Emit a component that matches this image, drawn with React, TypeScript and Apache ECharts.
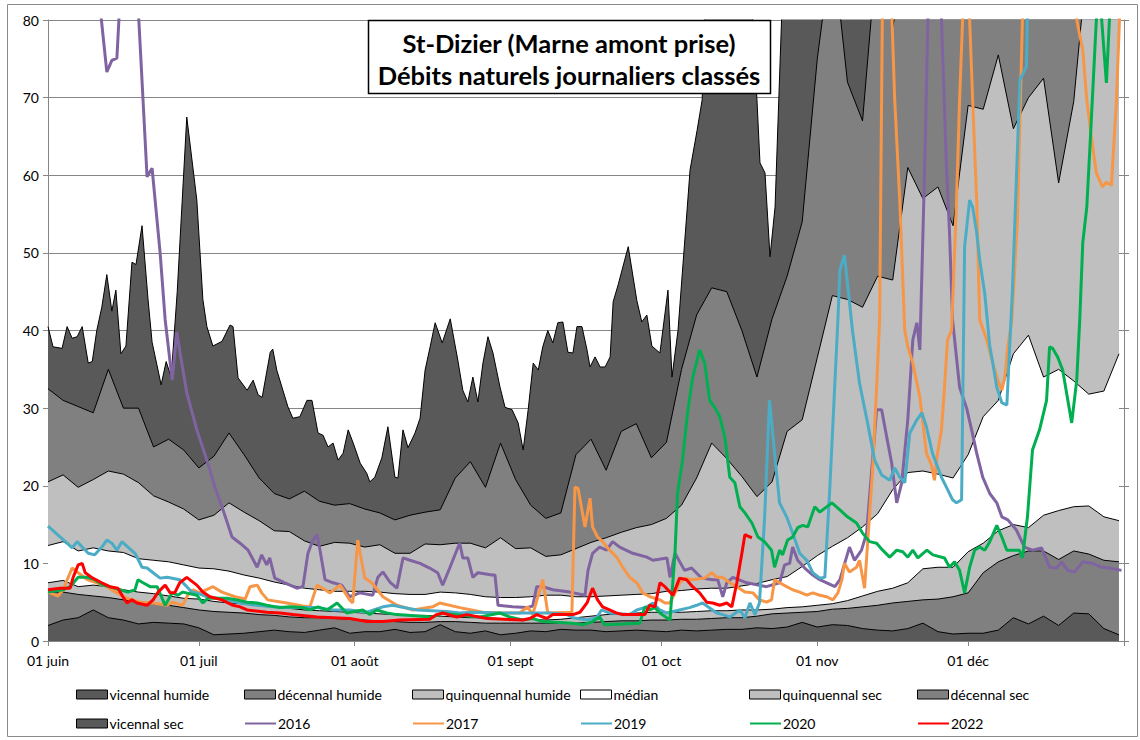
import React, { useEffect, useRef } from "react";
import * as echarts from "echarts";

// x = day index counted from 1 June (0) ; 1 January = 214
const monthTickDays = [0, 30, 61, 92, 122, 153, 183, 214];
const monthLabelDays = [0, 30, 61, 92, 122, 153, 183];
const monthLabels = ["01 juin", "01 juil", "01 août", "01 sept", "01 oct", "01 nov", "01 déc"];

// sampling days of the statistical bands
const bandDays = [0, 3, 6, 9, 12, 15, 18, 21, 24, 27, 30, 33, 36, 39, 42, 45, 48, 51, 54, 57, 60, 63, 66, 69, 72, 75, 78, 81, 84, 87, 90, 93, 96, 99, 102, 105, 108, 111, 114, 117, 120, 123, 126, 129, 132, 135, 138, 141, 144, 147, 150, 153, 156, 159, 162, 165, 168, 171, 174, 177, 180, 183, 186, 189, 192, 195, 198, 201, 204, 207, 210, 213];

const vicennalHumide: [number, number][] = [
  [0, 40.5], [1, 37.9], [2.8, 37.7], [3.8, 40.5], [4.8, 39], [5.8, 39.2], [6.8, 40.5], [8, 35.8], [8.8, 36], [9.7, 40],
  [10.7, 43], [11.7, 47.2], [12.7, 42.5], [13.5, 45.2], [14.5, 37], [15.5, 38], [16.7, 48.8], [17.5, 48.5], [18.7, 53.5], [19.9, 44],
  [20.7, 38.5], [22.5, 33], [23.5, 36], [24.5, 34], [25.7, 45], [27.6, 67.5], [29.6, 56.8], [30.8, 44], [31.6, 40.5], [32.8, 38],
  [34.6, 38.6], [36.2, 40.7], [36.8, 40.5], [37.8, 33.9], [39.6, 32.3], [40.8, 33.6], [41.8, 31.7], [42.6, 31.4], [44.2, 37.2], [44.7, 37.6],
  [45.5, 34.9], [47.7, 30.2], [48.7, 28.7], [50.1, 28.9], [51.5, 31], [52.5, 31], [53.7, 26.8], [54.7, 26.5], [55.7, 25], [56.7, 25.5],
  [57.7, 23.3], [58.7, 24.2], [59.7, 27.2], [60.7, 25.5], [62.1, 22.9], [63.4, 21.6], [64, 20.5], [65, 21.1], [66.4, 23.6], [67.6, 27.6],
  [69, 21.1], [69.6, 21], [70.6, 27.2], [71.6, 24.9], [73, 26.8], [74, 28.7], [75, 34.9], [76, 37.9], [77, 41], [78.4, 38.4],
  [80, 41.5], [81.5, 36.2], [82.5, 32.3], [83.5, 30.8], [84.5, 34], [85.5, 30.8], [86.5, 35.8], [87.5, 39.2], [88.5, 37.1], [89.9, 32.7],
  [90.9, 30.1], [92.3, 29.8], [93.5, 28.1], [94.5, 24.6], [95.5, 29.8], [96.5, 35.8], [97.5, 34.9], [98.4, 37.9], [99.4, 40], [100.4, 38.4],
  [101.4, 41], [102.4, 41.1], [103.4, 37.2], [104.4, 37.1], [105.2, 40.5], [106.2, 40.5], [107.2, 37.5], [107.8, 35.3], [108.8, 36.6], [109.8, 35.3],
  [110.8, 35.3], [111.8, 36.6], [112.4, 43.7], [113.4, 45.9], [115.4, 50.8], [117.1, 43.9], [118.1, 41.1], [119.1, 42], [120.1, 38], [121.7, 37.1],
  [123.3, 45.2], [124.1, 34], [125.3, 40], [127.7, 60.7], [129.1, 65.8], [130.1, 69.7], [130.7, 82], [133.7, 95], [138.6, 95], [140, 82],
  [141, 69.7], [141.6, 61.6], [142.6, 60.3], [143.6, 49.5], [144.6, 55.9], [146, 82], [149.6, 100], [169.5, 100], [189.3, 100], [213, 100],
];

const decennalHumide = [
  32.5, 31, 30.2, 29.4, 35, 30, 30, 25, 26, 24.6,
  22.3, 23.8, 26.8, 24, 21, 19, 18.3, 19.3, 18, 17.5,
  17.7, 17, 16.5, 15.6, 16.2, 16.6, 16.9, 21, 23.1, 19.8,
  25.5, 20.8, 17.5, 15.8, 16.5, 24, 26, 22, 27, 28,
  23.6, 25.6, 35, 42, 45.5, 45, 40, 34, 41.5, 47,
  54, 75, 90, 72, 67, 90, 79, 90, 95, 95,
  95, 95, 95, 95, 95, 95, 95, 95, 95, 95,
  95, 95,
];

const quinquennalHumide = [
  20.5, 21.4, 19.8, 20.8, 21.9, 21.5, 20.4, 18.7, 17.9, 17,
  15.6, 16.2, 17.8, 16.6, 15.5, 14.2, 14.1, 12.9, 12.2, 12.7,
  12.6, 12.1, 12.4, 11.3, 11.3, 12.5, 12.4, 12.6, 12.6, 12,
  13.3, 11.9, 12, 10.9, 11.1, 11.9, 12.7, 13.3, 14, 14.6,
  15, 15.8, 17.5, 21, 25.5, 23.5, 21.2, 18.6, 20.5, 27,
  28.5, 36.5, 44.5, 44, 43, 47, 46.5, 61, 57, 58.5,
  53.5, 69, 68.5, 75.5, 66, 70, 72.5, 59, 69.5, 90,
  90, 90,
];

const median = [
  12.3, 12.8, 11.6, 12, 11.6, 11.4, 10.6, 10.4, 10.2, 9.8,
  9.4, 9.3, 9, 8.5, 8.1, 7.6, 7.2, 6.8, 6.6, 6.4,
  6.4, 6.4, 6.3, 6.1, 6, 6, 6.3, 6.2, 6, 5.7,
  5.6, 5.6, 5.7, 5.9, 5.9, 5.7, 5.7, 5.8, 5.9, 6,
  6.1, 6.4, 6.5, 6.7, 6.8, 6.8, 7.1, 7.4, 7.9, 8.3,
  9.6, 11, 12.2, 13.3, 14.7, 16.4, 19.5, 21.7, 21.9, 21.5,
  21, 24, 28.9, 31, 37, 39.4, 34, 35, 33.5, 31.8,
  32.2, 37,
];

const quinquennalSec = [
  7.5, 7.8, 7, 7.2, 7, 6.6, 6.3, 6.1, 5.8, 5.5,
  5.4, 5.1, 4.9, 4.8, 4.6, 4.4, 4.2, 4, 3.9, 3.8,
  3.7, 3.6, 3.5, 3.4, 3.3, 3.3, 3.2, 3.1, 3, 3,
  2.9, 2.8, 2.8, 2.7, 2.8, 3, 3.2, 3.4, 3.5, 3.6,
  3.7, 3.7, 3.7, 3.8, 3.9, 3.9, 4, 4, 4.1, 4.3,
  4.4, 4.6, 4.8, 5.2, 5.8, 6.4, 6.8, 7.5, 9.3, 9.5,
  9.5, 11.5, 12.6, 14.2, 15, 14.6, 16.2, 16.8, 17.3, 17.4,
  16, 15.5,
];

const decennalSec = [
  6.3, 6.3, 6, 5.8, 5.6, 5.3, 5, 4.8, 4.6, 4.3,
  4, 3.8, 3.7, 3.6, 3.4, 3.3, 3.1, 3, 3, 2.9,
  2.8, 2.7, 2.6, 2.5, 2.4, 2.4, 2.5, 2.5, 2.4, 2.3,
  2.3, 2.3, 2.3, 2.3, 2.3, 2.3, 2.4, 2.5, 2.6, 2.6,
  2.7, 2.7, 2.8, 2.8, 2.9, 3, 3, 3.2, 3.5, 3.6,
  3.7, 3.8, 4.1, 4.2, 4.4, 4.6, 4.9, 5.1, 5.3, 5.4,
  5.7, 6.2, 8.8, 10.2, 11, 11.6, 11.6, 10.5, 11.6, 11.2,
  10.4, 10.2,
];

const vicennalSec = [
  2, 2.7, 3, 4, 3, 2.7, 2.2, 2.4, 2.3, 2.2,
  1.7, 0.8, 0.9, 1, 1.2, 1.4, 1.2, 1.1, 1.4, 1.7,
  1, 1.2, 1.2, 1.5, 1.1, 1.2, 2.1, 1.2, 1, 1.3,
  0.8, 1, 1.3, 1.2, 1.5, 1.4, 1.4, 1.2, 1.3, 1.4,
  1.3, 1.2, 1.4, 1.3, 1.4, 1.5, 1.5, 1.7, 1.6, 1.8,
  2.4, 1.8, 2.1, 2, 1.6, 1.4, 1.3, 1.6, 2.3, 1.2,
  0.9, 1, 1, 1.4, 3, 2.2, 3.2, 2, 3.6, 3.5,
  1.6, 0.8,
];

const y2016: [number, number][] = [
  [0, 130], [6, 110], [10.3, 82], [11.7, 73.3], [12.7, 74.8], [13.7, 75.1], [14.1, 80], [14.7, 100], [17.3, 100], [17.9, 82],
  [18.9, 69.7], [19.7, 59.8], [20.7, 60.9], [22.3, 50], [23.3, 41.4], [24.7, 33.6], [25.6, 39.8], [26.6, 35.8], [27.6, 32], [29.6, 27.2],
  [31.6, 23.3], [33.2, 19.8], [34.6, 17.3], [36.6, 13.4], [38.2, 12.6], [39.8, 11.7], [41.6, 9.5], [42.5, 11.1], [43.5, 9.8], [44.1, 10.7],
  [45.1, 8.1], [47.1, 7.5], [49.5, 6.8], [50.7, 7], [51.7, 11.3], [52.7, 13], [53.5, 13.7], [54.1, 11.7], [55.1, 7.9], [56.7, 7.5],
  [58.4, 7.2], [60, 5.7], [62, 6.2], [64.6, 5.9], [65.6, 8.2], [66.6, 8.9], [68, 7.6], [69.4, 6.8], [70.6, 10.7], [72, 10.4],
  [74, 10], [75.9, 9.4], [77.5, 8.8], [78.5, 7.2], [79.9, 9.4], [81.3, 11.7], [81.9, 12.6], [82.5, 10.7], [83.5, 10.7], [84.5, 8.2],
  [85.5, 8.8], [88.3, 8.5], [88.9, 8.5], [89.5, 4.6], [92.4, 4.4], [95.2, 4.3], [96.4, 4.5], [97.2, 7], [98.4, 7], [100.4, 6.6],
  [103.8, 6.3], [106.8, 5.9], [107.4, 9.1], [108.3, 11.3], [109.7, 12.1], [111.1, 11.7], [112.3, 12.8], [113.7, 12.1], [116.3, 11.3], [119.1, 10.8],
  [120.3, 10.4], [123.1, 10.7], [123.7, 8.2], [124.7, 11.3], [126.6, 9.1], [128, 9.4], [130, 8.1], [132.2, 7.9], [133.2, 7.9], [134.2, 5.7],
  [135, 7.5], [136.2, 8.2], [139, 7.5], [142.9, 7], [145.5, 7.5], [146.5, 9.8], [147.5, 10], [148.1, 12.1], [149.1, 10.4], [150.5, 9.4],
  [152.1, 8.5], [153.5, 7.9], [156.5, 7], [157.5, 7.9], [159.4, 12.1], [160.4, 10.4], [161.8, 11.7], [162.8, 13.9], [164.8, 29.8], [165.8, 29.8],
  [166.8, 26.3], [167.8, 22.9], [168.8, 17.8], [169.8, 20.4], [171, 28.5], [172, 38.8], [172.8, 41], [173.4, 37.5], [174.4, 62], [175, 80],
  [176.3, 100], [177.7, 80], [178.7, 61], [179.3, 52.6], [179.9, 41.4], [181.3, 32.7], [182.7, 30], [183.7, 27.2], [184.7, 24.2], [185.9, 21.1],
  [187.3, 19], [188.7, 17.8], [189.7, 16], [190.9, 15.6], [192.6, 14.3], [194.2, 12.1], [195.8, 11.7], [197.6, 12], [199.2, 9.5], [200.6, 9.4],
  [201.6, 10.2], [202.8, 9.1], [204.2, 8.9], [205.8, 10.2], [207.8, 10], [209.5, 9.5], [211.1, 9.4], [213.5, 9.1],
];

const y2017: [number, number][] = [
  [0, 6.3], [2, 5.8], [3, 6.6], [4.8, 9.4], [6, 8.8], [7.8, 7.9], [9.7, 7.5], [11.7, 7], [13.7, 6.2], [15.7, 5.5],
  [18.3, 5], [20.9, 4.9], [23.7, 4.6], [24.7, 5], [26.8, 4.6], [27.8, 5.9], [28.8, 6.6], [30.2, 6.2], [32.8, 7], [34.6, 6.3],
  [37.2, 5.7], [39.2, 5.4], [40.2, 7], [41.6, 7.2], [42.5, 6.2], [43.7, 5.3], [47.5, 4.9], [50.7, 4.5], [52.1, 4.4], [53.5, 7.2],
  [55.1, 6.6], [56.1, 6.2], [58.1, 7.2], [60, 5.3], [60.6, 4.9], [61.6, 13], [63, 8.1], [64.4, 7.5], [66.6, 5.7], [69.4, 4.6],
  [72.6, 4], [76.5, 4.4], [77.9, 4.9], [81.9, 4.3], [86.5, 3.7], [89.9, 3.6], [93.8, 3.6], [95.4, 4.4], [96.4, 3.4], [98.4, 7.9],
  [99.4, 3.6], [104.2, 3.7], [104.8, 19.8], [105.4, 19.7], [106.8, 14.7], [107.8, 18.4], [108.3, 14.7], [109.3, 13.4], [110.3, 12.8], [111.7, 11.7],
  [113.1, 10.8], [114.3, 9.5], [115.7, 8.2], [117.1, 7.5], [118.3, 6.2], [119.7, 5.7], [121.7, 5.3], [122.7, 4.9], [123.7, 4.9], [124.7, 6.2],
  [125.6, 7.5], [126.6, 8.1], [128, 7.9], [130.6, 8.1], [132, 8.8], [133, 8.2], [134.2, 8.2], [135.6, 7.5], [137, 7], [138.6, 6.3],
  [140.2, 6.2], [141.5, 5.3], [142.9, 5], [143.9, 5.3], [144.5, 7.9], [145.5, 7.5], [146.9, 7], [148.1, 6.6], [149.5, 6.3], [150.9, 5.9],
  [152.1, 6.2], [153.5, 5.9], [154.9, 5.7], [156.1, 5.3], [157.1, 6.2], [157.9, 7.9], [158.4, 10], [159.4, 8.9], [160.8, 9.5], [161.4, 10.4],
  [162.4, 6.8], [164, 22], [164.8, 32.7], [165.4, 41.4], [166.2, 100], [167.6, 85], [168.4, 69.7], [169.4, 56.8], [170.4, 40], [171, 37.9],
  [172, 35.8], [173.4, 31.4], [174.7, 24.2], [175.7, 22.7], [176.3, 20.7], [176.9, 24.2], [177.7, 27.2], [178.3, 32.7], [178.9, 38.8], [179.7, 40],
  [180.7, 56.8], [181.3, 69.7], [181.9, 80], [182.5, 95], [183.3, 80], [183.9, 69.7], [184.7, 56.8], [185.3, 41.4], [186.7, 38.8], [187.9, 35.8],
  [188.9, 33.6], [189.7, 32.3], [190.3, 34], [190.9, 37.9], [191.7, 41.4], [192.8, 54.2], [193.8, 80], [195.2, 100], [199.2, 110], [203.2, 95],
  [204.6, 80], [205.8, 76.1], [206.6, 69.7], [207.6, 64.5], [208.5, 60.3], [209.7, 58.5], [210.5, 59.1], [211.5, 58.7], [212.5, 69.7], [213.1, 80],
  [213.9, 95],
];

const y2019: [number, number][] = [
  [0, 14.8], [2.4, 13.4], [3.8, 12.6], [4.8, 12], [5.8, 12.8], [6.8, 12.1], [8, 11.3], [9.3, 11.1], [10.7, 12.1], [11.7, 13],
  [12.7, 12.6], [13.7, 11.7], [14.7, 12.8], [15.9, 12.1], [17.3, 11.3], [18.7, 9.5], [19.7, 9.4], [20.9, 8.8], [22.3, 8.1], [23.7, 8.2],
  [26.2, 7.9], [27.6, 7], [28.6, 6.3], [29.6, 6.2], [31.6, 5.7], [33.6, 5.5], [35.6, 5.3], [38.2, 4.9], [41.6, 4.6], [44.7, 4.4],
  [47.5, 4.3], [53.5, 4.3], [56.7, 4], [60, 4], [63.4, 3.7], [66.6, 4.4], [68.6, 4.6], [70, 4.4], [73.4, 4], [79.3, 3.8],
  [81.9, 3.6], [84.5, 3.7], [89.9, 3.6], [99.8, 3.6], [103.2, 3.4], [104.4, 3], [107.2, 2.7], [109.1, 3], [110.1, 4], [111.7, 3.6],
  [115.7, 3.4], [117.1, 4], [119.1, 4.4], [120.3, 4.9], [121.7, 4], [123.1, 3.6], [125.6, 4], [127.6, 4.3], [129, 4.6], [130.2, 4.9],
  [133, 3.6], [134.2, 3.4], [135.6, 3.1], [137.6, 4], [138.6, 3], [139.6, 4.9], [140.6, 3.4], [141.5, 4.9], [142.5, 15.6], [143.5, 31],
  [144.5, 24.2], [145.5, 17.8], [146.9, 16], [148.1, 13.9], [149.5, 11.3], [150.9, 10.4], [152.1, 8.8], [153.5, 8.1], [154.5, 8.2], [155.5, 19.8],
  [157.1, 41.4], [157.5, 47.8], [158.4, 49.7], [160, 40], [161.4, 33.2], [163, 28.1], [164.4, 23.3], [165.8, 21.4], [167.4, 20.7], [168.4, 22.3],
  [169.4, 21.1], [170.4, 20.4], [171.4, 26.8], [172.8, 28.5], [173.8, 29.4], [174.7, 27.6], [175.9, 24.2], [177.7, 21.1], [178.7, 19.8], [179.9, 18.2],
  [180.7, 17.8], [181.7, 18.2], [182.3, 50.8], [183.3, 56.8], [183.9, 55.9], [184.7, 52.6], [185.3, 49.1], [186.3, 44.8], [187.3, 38], [187.9, 35.8],
  [188.7, 32.7], [189.7, 30.7], [190.7, 30.4], [191.8, 45], [193.3, 72.3], [194.6, 74], [195.2, 95], [201.2, 110], [213.9, 100],
];

const y2020: [number, number][] = [
  [0, 6.3], [3, 6.6], [4.4, 7], [6, 8.2], [7.8, 8.2], [9.3, 7.9], [10.9, 7.2], [12.3, 7], [14.3, 6.6], [15.9, 6.3],
  [17.3, 6.6], [17.9, 7.9], [18.9, 7.5], [20.3, 7], [21.7, 7], [23.3, 4.6], [24.7, 6.2], [25.8, 5.9], [26.8, 6.3], [29.6, 5.9],
  [30.8, 4.9], [31.8, 5.5], [35.6, 5.5], [37.6, 5.3], [39.6, 5], [41.6, 4.9], [43.5, 4.6], [46.1, 4.3], [48.1, 4.4], [50.7, 4.3],
  [52.1, 4], [53.7, 4.4], [55.5, 4], [57.5, 4.9], [59.4, 3.6], [62.6, 4], [64, 3.4], [65.4, 4], [67.4, 3.6], [69.4, 3.4],
  [76.5, 3.1], [78.5, 3.6], [80.5, 3.4], [85.9, 3.1], [89.9, 3.6], [91.8, 3.1], [94.4, 2.7], [96.4, 2.9], [98.4, 2.5], [104.4, 2.3],
  [106.4, 2.1], [108.3, 2.5], [109.7, 3.1], [110.7, 2.1], [117.7, 2.3], [118.7, 4.4], [119.7, 4], [120.7, 4.3], [121.7, 3.6], [123.7, 2.7],
  [124.7, 11.3], [125.2, 19], [126.2, 23.3], [127.2, 29.4], [128.2, 33.9], [129.6, 37.5], [130.6, 35.8], [131.6, 31], [132.6, 30.1], [133.6, 28.9],
  [134.6, 26.3], [135.6, 21.1], [136.6, 20.4], [137.6, 17.3], [138.6, 16.5], [140, 15.2], [141.2, 13.4], [142.5, 12.8], [143.9, 11.7], [144.5, 9.5],
  [145.5, 11.7], [146.1, 11.1], [147.1, 13], [148.1, 13.4], [149.1, 14.6], [150.1, 14.9], [151.1, 14.7], [152.5, 17.3], [153.5, 16.6], [155.9, 17.8],
  [157.5, 16.9], [159, 16], [160.8, 15.2], [162, 13.9], [163.4, 12.8], [164.8, 12.6], [166, 11.7], [167.4, 10.8], [168.8, 11.7], [170, 11.5],
  [171, 10.8], [172, 11.7], [173, 10.7], [174.8, 11.7], [176, 11.1], [178.3, 10.7], [179.3, 9.5], [180.3, 10.2], [181.3, 9.1], [182.3, 6.2],
  [183.3, 9.5], [184.3, 11.7], [185.3, 12.1], [186.3, 11.7], [187.3, 12.8], [188.7, 14.9], [189.7, 13.4], [190.7, 11.7], [193.2, 11.7], [193.8, 10.7],
  [194.8, 16], [195.8, 24.6], [197.2, 27.2], [198.6, 31], [199.2, 37.9], [199.8, 37.7], [200.8, 36.6], [201.8, 34.9], [203.6, 28.1], [204.6, 33.6],
  [205.2, 41.4], [205.8, 51.3], [206.6, 55.9], [207.2, 63.3], [207.8, 71], [208.5, 80], [209.1, 84], [210.5, 71.9], [211.1, 80], [212.1, 95],
  [213.9, 100],
];

const y2022: [number, number][] = [
  [0, 6.6], [2.4, 6.8], [4.4, 6.8], [5, 8.2], [6, 9.8], [6.8, 10], [7.4, 8.8], [8.9, 8.1], [10.7, 7.5], [12.3, 7],
  [13.9, 6.8], [14.9, 5.7], [15.7, 4.9], [16.7, 5.3], [17.7, 4.9], [19.7, 4.6], [20.9, 5.3], [21.9, 6.3], [23.3, 7.2], [24.3, 6.2],
  [25.2, 6.2], [26.2, 7.5], [27.6, 8.2], [29.6, 7.2], [30.8, 6.3], [32.2, 5.7], [34.6, 5.3], [36.8, 4.6], [38.2, 4.4], [39.6, 4],
  [43.5, 3.7], [46.1, 3.6], [48.7, 3.4], [53.5, 3.1], [60, 2.9], [63.4, 2.5], [66.6, 2.5], [70, 2.7], [75.9, 2.8], [77.3, 3.4],
  [78.5, 3.6], [81.3, 3.1], [83.3, 3.4], [87.3, 2.9], [94.4, 2.7], [95.8, 2.9], [97.2, 3.4], [99.2, 2.9], [100.4, 3.4], [103.2, 3.4],
  [104.4, 3.4], [105.8, 3.7], [107.2, 4.9], [108.3, 6.8], [109.3, 5.3], [110.3, 4.4], [111.7, 4], [113.1, 3.6], [114.3, 3.4], [118.7, 3.4],
  [119.7, 4.6], [120.7, 4.4], [121.7, 7.5], [122.7, 7], [124.3, 5.9], [125.6, 8.1], [127, 7.9], [128.2, 7], [129.6, 6.2], [131, 5],
  [132.2, 4.9], [133.6, 4.6], [135, 4.9], [136, 4.4], [137, 7.5], [138, 11.3], [138.6, 13.7], [139.2, 13.5], [140, 13.3],
];

const FONT = "Lato, 'Open Sans', sans-serif";

const bandDefs = [
  { name: "vicennal humide", color: "#595959" },
  { name: "décennal humide", color: "#808080", values: decennalHumide },
  { name: "quinquennal humide", color: "#BFBFBF", values: quinquennalHumide },
  { name: "médian", color: "#FFFFFF", values: median },
  { name: "quinquennal sec", color: "#BFBFBF", values: quinquennalSec },
  { name: "décennal sec", color: "#808080", values: decennalSec },
  { name: "vicennal sec", color: "#595959", values: vicennalSec },
];

const lineDefs = [
  { name: "2016", color: "#8064A2", data: y2016 },
  { name: "2017", color: "#F79646", data: y2017 },
  { name: "2019", color: "#4BACC6", data: y2019 },
  { name: "2020", color: "#00B050", data: y2020 },
  { name: "2022", color: "#FF0000", data: y2022 },
];

const legendColumnLefts = [76, 244, 412, 580, 749, 917];
const legendRowTops = [687, 716];
const legendRows = [
  ["vicennal humide", "décennal humide", "quinquennal humide", "médian", "quinquennal sec", "décennal sec"],
  ["vicennal sec", "2016", "2017", "2019", "2020", "2022"],
];

export default function App() {
  const ref = useRef<HTMLDivElement>(null);

  useEffect(() => {
    if (!ref.current) return;
    const chart = echarts.init(ref.current, null, { renderer: "svg" });

    const areaSeries = bandDefs.map((b) => {
      const data: [number, number][] = b.values
        ? b.values.map((v, i) => [bandDays[i], v])
        : vicennalHumide;
      return {
        type: "line",
        name: b.name,
        data,
        symbol: "none",
        showSymbol: false,
        itemStyle: { color: b.color },
        lineStyle: { color: "#000000", width: 1 },
        areaStyle: { color: b.color, opacity: 1 },
        emphasis: { disabled: true },
        z: 2,
      };
    });

    const lineSeries = lineDefs.map((l) => ({
      type: "line",
      name: l.name,
      data: l.data,
      symbol: "none",
      showSymbol: false,
      itemStyle: { color: l.color },
      lineStyle: { color: l.color, width: 3 },
      emphasis: { disabled: true },
      z: 3,
    }));

    const colorOf = (name: string) => bandDefs.find((b) => b.name === name)?.color;

    const legends: any[] = [];
    legendRows.forEach((row, r) => {
      row.forEach((n, c) => {
        const col = colorOf(n);
        legends.push({
          orient: "horizontal",
          left: legendColumnLefts[c],
          top: legendRowTops[r],
          padding: 0,
          itemWidth: 31,
          itemHeight: 9,
          selectedMode: false,
          textStyle: { fontFamily: FONT, fontSize: 14, color: "#000", lineHeight: 15, padding: [0, 0, 0, -3] },
          data: [
            col
              ? { name: n, icon: "rect", itemStyle: { color: col, borderColor: "#000", borderWidth: 1 } }
              : { name: n, itemStyle: { opacity: 0 } },
          ],
        });
      });
    });

    chart.setOption({
      animation: false,
      backgroundColor: "#FFFFFF",
      grid: { left: 48, right: 16, top: 20, bottom: 99, containLabel: false },
      xAxis: {
        type: "value",
        min: 0,
        max: 214,
        axisLine: { show: true, lineStyle: { color: "#868686", width: 1 } },
        axisTick: { show: true, customValues: monthTickDays, length: 5, lineStyle: { color: "#868686" } },
        axisLabel: {
          customValues: monthLabelDays,
          formatter: (v: number) => {
            const k = monthLabelDays.indexOf(Math.round(v));
            return k >= 0 ? monthLabels[k] : "";
          },
          margin: 12,
          fontFamily: FONT,
          fontSize: 14,
          color: "#000",
        },
        splitLine: { show: false },
      },
      yAxis: [
        {
          type: "value",
          min: 0,
          max: 80,
          interval: 10,
          position: "left",
          axisLine: { show: true, lineStyle: { color: "#868686" } },
          axisTick: { show: true, length: 5, lineStyle: { color: "#868686" } },
          axisLabel: { fontFamily: FONT, fontSize: 14, color: "#000", margin: 9 },
          splitLine: { show: true, lineStyle: { color: "#868686", width: 1 } },
        },
        {
          type: "value",
          min: 0,
          max: 80,
          interval: 10,
          position: "right",
          axisLine: { show: true, lineStyle: { color: "#868686" } },
          axisTick: { show: true, length: 5, lineStyle: { color: "#868686" } },
          axisLabel: { show: false },
          splitLine: { show: false },
        },
      ],
      legend: legends,
      series: [...areaSeries, ...lineSeries],
      graphic: [
        {
          type: "rect",
          z: 0,
          silent: true,
          shape: { x: 7.5, y: 4.5, width: 1130, height: 732 },
          style: { fill: "none", stroke: "#8A8A8A", lineWidth: 1 },
        },
        {
          type: "group",
          z: 100,
          children: [
            {
              type: "rect",
              z: 100,
              shape: { x: 368.5, y: 20.5, width: 402, height: 73 },
              style: { fill: "#FFFFFF", stroke: "#000000", lineWidth: 1.5 },
            },
            {
              type: "text",
              z: 101,
              x: 569,
              y: 43,
              style: {
                text: "St-Dizier (Marne amont prise)",
                fontFamily: FONT,
                fontWeight: "bold",
                fontSize: 25.5,
                fill: "#000",
                align: "center",
                verticalAlign: "middle",
              },
            },
            {
              type: "text",
              z: 101,
              x: 569,
              y: 75,
              style: {
                text: "Débits naturels journaliers classés",
                fontFamily: FONT,
                fontWeight: "bold",
                fontSize: 25.5,
                fill: "#000",
                align: "center",
                verticalAlign: "middle",
              },
            },
          ],
        },
      ],
    });

    return () => {
      chart.dispose();
    };
  }, []);

  return (
    <div
      ref={ref}
      style={{ position: "fixed", left: 0, top: 0, width: 1140, height: 740, background: "#fff" }}
    />
  );
}
